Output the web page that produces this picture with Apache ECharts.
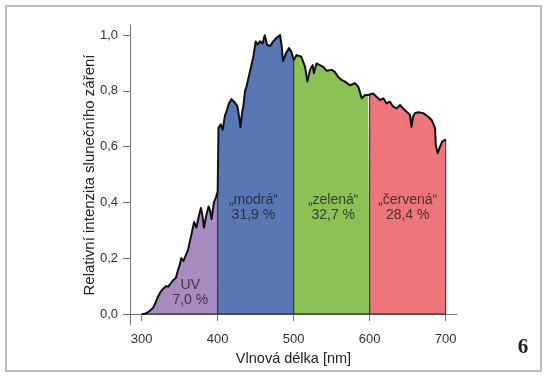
<!DOCTYPE html>
<html>
<head>
<meta charset="utf-8">
<script src="https://cdn.jsdelivr.net/npm/echarts@6/dist/echarts.min.js"></script>
<style>
html,body{margin:0;padding:0;background:#fff;}
#c{width:550px;height:382px;}
</style>
</head>
<body>
<div id="c"></div>
<script>
// ---- data ----
var wavelengths = [300,303,306,310,315,318,321,325,328,332,335,337,341,345,348,350,352,355,358,361,365,369,372,376,378,380,382,385,388,390,392,395,398,400,
  401,404,406.5,409.5,412,415,418,420,423,426,428,430,432,434,436,438,441.5,444.5,447,450,452.5,455.5,459,462,465,469,473,477.5,482,484,486,490,494,497,500,
  504,510,515,518,521.5,525,526.5,530,534.5,539,543,550,554,558.5,563,567.5,574,580.5,585,589.5,594,598,600,
  604.5,609,613.5,618,622,626.5,631,635.5,640,644,648.5,653,655,657,659.5,664,670.5,677,681.5,683.5,686,687,689.5,692.5,695.5,699,700];
var intensity = [0.0,0.0,0.003,0.01,0.022,0.04,0.06,0.08,0.09,0.10,0.098,0.105,0.12,0.13,0.16,0.175,0.20,0.19,0.21,0.23,0.28,0.33,0.31,0.36,0.38,0.35,0.31,0.355,0.385,0.37,0.34,0.40,0.42,0.44,
  0.667,0.68,0.66,0.71,0.73,0.756,0.77,0.774,0.756,0.744,0.71,0.67,0.72,0.75,0.80,0.816,0.858,0.894,0.924,0.977,0.965,0.977,0.97,0.999,0.965,0.96,0.977,0.99,1.0,0.965,0.906,0.935,0.953,0.94,0.91,
  0.928,0.922,0.886,0.833,0.875,0.892,0.863,0.898,0.892,0.886,0.872,0.875,0.868,0.85,0.839,0.833,0.82,0.827,0.815,0.773,0.785,0.785,0.787,
  0.79,0.779,0.767,0.773,0.755,0.761,0.743,0.737,0.749,0.737,0.725,0.713,0.671,0.707,0.72,0.723,0.72,0.707,0.695,0.683,0.666,0.606,0.576,0.60,0.618,0.624,0.62];
var bandEdges = [300,400,500,600,700];
var bandNames = ['UV','„modrá“','„zelená“','„červená“'];
var bandShares = ['7,0 %','31,9 %','32,7 %','28,4 %'];
var xTicks = [300,400,500,600,700];
var yTicks = [0,0.2,0.4,0.6,0.8,1.0];

var bandColors = ['#a88bbf','#5976b5','#8bc155','#ee7579'];
var FONT = 'Liberation Sans, Arial, Helvetica, sans-serif';
// label anchor positions (in axis units)
var labPos = [[364,0.076],[447,0.383],[552,0.383],[650,0.383]];

var pts = wavelengths.map(function(w,i){return [w,intensity[i]];});
function valueAt(w){ for(var i=0;i<wavelengths.length;i++){ if(wavelengths[i]===w) return intensity[i]; } return 0; }

var series = [];
for (var b=0;b<4;b++){
  var lo=bandEdges[b], hi=bandEdges[b+1];
  series.push({
    type:'line', data: pts.filter(function(p){return p[0]>=lo && p[0]<=hi;}),
    showSymbol:false, symbol:'none', silent:true,
    lineStyle:{width:0}, areaStyle:{color:bandColors[b], opacity:1, origin:0}, z:1
  });
}
bandEdges.slice(1).forEach(function(e){
  series.push({type:'line', data:[[e,0],[e,valueAt(e)]], symbol:'none', silent:true,
    lineStyle:{width:1, color:'#222'}, z:3});
});
series.push({type:'line', data:[[bandEdges[0],0],[bandEdges[4],0]], symbol:'none', silent:true,
  lineStyle:{width:1.2, color:'#222'}, z:3});
series.push({type:'line', data:pts, symbol:'none', silent:true,
  lineStyle:{width:2, color:'#111', join:'round'}, z:4});
series.push({type:'scatter', symbolSize:0, silent:true, z:5,
  data: bandNames.map(function(n,i){return {value:labPos[i], name:n, share:bandShares[i]};}),
  label:{show:true, position:'inside', fontFamily:FONT, fontSize:14, lineHeight:15, color:'#222',
    formatter:function(p){return p.data.name+'\n'+p.data.share;}}
});

var chart = echarts.init(document.getElementById('c'), null, {renderer:'canvas'});
chart.setOption({
  animation:false,
  backgroundColor:'#fff',
  grid:{left:130, right:93, top:25, bottom:57, containLabel:false},
  xAxis:{type:'value', min:284.6, max:714.9,
    name:'Vlnová délka [nm]', nameLocation:'middle', nameGap:26,
    nameTextStyle:{fontFamily:FONT, fontSize:14.5, color:'#222'},
    axisLine:{show:true, lineStyle:{color:'#777', width:1}},
    axisTick:{show:true, length:7, inside:false, customValues:xTicks, lineStyle:{color:'#777'}},
    axisLabel:{show:true, customValues:xTicks, fontFamily:FONT, fontSize:13, color:'#333', margin:8,
      formatter:function(v){return String(v);}},
    splitLine:{show:false}},
  yAxis:{type:'value', min:-0.0394, max:1.0358,
    name:'Relativní intenzita slunečního záření', nameLocation:'middle', nameGap:33, nameRotate:90,
    nameMoveOverlap:false,
    nameTextStyle:{fontFamily:FONT, fontSize:15, color:'#222'},
    axisLine:{show:true, lineStyle:{color:'#777', width:1}},
    axisTick:{show:true, length:7, customValues:yTicks, lineStyle:{color:'#777'}},
    axisLabel:{show:true, customValues:yTicks, fontFamily:FONT, fontSize:13, color:'#333', margin:12,
      formatter:function(v){return v.toFixed(1).replace('.',',');}},
    splitLine:{show:false}},
  graphic:[
    {type:'rect', shape:{x:6,y:6,width:535,height:365}, style:{fill:null, stroke:'#bdbdbd', lineWidth:2}, silent:true, z:-1},
    {type:'text', x:523, y:348, style:{text:'6', font:'bold 21px "Liberation Serif", "DejaVu Serif", serif', fill:'#222', align:'center', verticalAlign:'middle'}}
  ],
  series:series
});
</script>
</body>
</html>
